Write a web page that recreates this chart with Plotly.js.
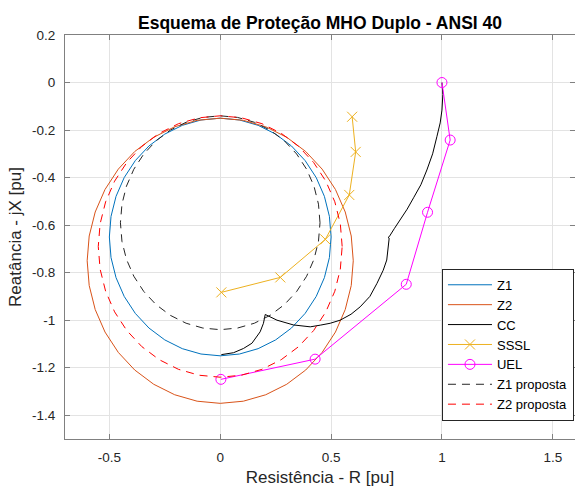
<!DOCTYPE html>
<html>
<head>
<meta charset="utf-8">
<script src="https://cdn.plot.ly/plotly-3.0.1.min.js"></script>
<style>html,body{margin:0;padding:0;background:#fff;}#chart{width:575px;height:491px;}</style>
</head>
<body>
<div id="chart"></div>
<script>
// ---- Data ----
// MHO zone circles: [centre R, centre X, radius]
const zoneNames   = ['Z1', 'Z2', 'Z1 proposta', 'Z2 proposta'];
const zoneCenterR = [0, 0, 0, 0];
const zoneCenterX = [-0.65, -0.75, -0.59, -0.69];
const zoneRadius  = [0.5, 0.6, 0.45, 0.55];
const circleSegments = 36;

// CC trajectory
const ccR = [0.005, 0.06, 0.105, 0.143, 0.18, 0.195, 0.203, 0.226, 0.256, 0.33, 0.406, 0.451, 0.496, 0.541, 0.59, 0.631, 0.675, 0.707, 0.735, 0.751, 0.759, 0.762, 0.757, 0.762, 0.785, 0.812, 0.843, 0.872, 0.905, 0.932, 0.958, 0.977, 0.992, 1.0, 1.004, 1.0];
const ccX = [-1.145, -1.137, -1.119, -1.097, -1.049, -1.013, -0.976, -0.986, -1.0, -1.02, -1.028, -1.021, -1.013, -1.0, -0.975, -0.944, -0.9, -0.845, -0.79, -0.747, -0.691, -0.655, -0.652, -0.649, -0.615, -0.577, -0.533, -0.485, -0.43, -0.368, -0.3, -0.228, -0.17, -0.116, -0.05, 0.0];

// SSSL
const ssslR = [0.005, 0.271, 0.474, 0.582, 0.611, 0.595];
const ssslX = [-0.883, -0.82, -0.66, -0.473, -0.292, -0.144];

// UEL
const uelR = [0.003, 0.428, 0.839, 0.935, 1.037, 1.0];
const uelX = [-1.249, -1.164, -0.849, -0.546, -0.242, 0.0];

// Tick labels
const xTickVals = [-0.5, 0, 0.5, 1, 1.5];
const xTickText = ['-0.5', '0', '0.5', '1', '1.5'];
const yTickVals = [0.2, 0, -0.2, -0.4, -0.6, -0.8, -1, -1.2, -1.4];
const yTickText = ['0.2', '0', '-0.2', '-0.4', '-0.6', '-0.8', '-1', '-1.2', '-1.4'];

// ---- Build traces ----
function circlePts(i) {
  const xs = [], ys = [];
  for (let k = 0; k <= circleSegments; k++) {
    const t = 2 * Math.PI * k / circleSegments;
    xs.push(zoneCenterR[i] + zoneRadius[i] * Math.cos(t));
    ys.push(zoneCenterX[i] + zoneRadius[i] * Math.sin(t));
  }
  return {x: xs, y: ys};
}
const font = 'Liberation Sans, Arial, Helvetica, sans-serif';
const c0 = circlePts(0), c1 = circlePts(1), c2 = circlePts(2), c3 = circlePts(3);
const traces = [
  {x: c0.x, y: c0.y, name: zoneNames[0], mode: 'lines', line: {color: '#0072BD', width: 1}},
  {x: c1.x, y: c1.y, name: zoneNames[1], mode: 'lines', line: {color: '#D95319', width: 1}},
  {x: ccR, y: ccX, name: 'CC', mode: 'lines', line: {color: '#000000', width: 1}},
  {x: ssslR, y: ssslX, name: 'SSSL', mode: 'lines+markers', line: {color: '#EDB120', width: 1},
   marker: {symbol: 'x-thin-open', size: 10, color: '#EDB120', line: {color: '#EDB120', width: 1}}},
  {x: uelR, y: uelX, name: 'UEL', mode: 'lines+markers', line: {color: '#FF00FF', width: 1},
   marker: {symbol: 'circle-open', size: 10, color: '#FF00FF', line: {color: '#FF00FF', width: 1}}},
  {x: c2.x, y: c2.y, name: zoneNames[2], mode: 'lines', line: {color: '#262626', width: 1, dash: '8px,6px'}},
  {x: c3.x, y: c3.y, name: zoneNames[3], mode: 'lines', line: {color: '#FF0000', width: 1, dash: '8px,6px'}}
];

const axisCommon = {
  showgrid: true, gridcolor: '#e3e3e3', gridwidth: 1,
  zeroline: false, showline: true, linecolor: '#808080', linewidth: 1,
  mirror: 'all', ticks: 'inside', ticklen: 5, tickcolor: '#808080',
  tickfont: {family: font, size: 13.5, color: '#262626'},
  ticklabelstandoff: 6
};

const layout = {
  width: 575, height: 491,
  margin: {l: 65, r: 0, t: 35, b: 52},
  paper_bgcolor: '#ffffff', plot_bgcolor: '#ffffff',
  font: {family: font, color: '#262626'},
  title: {text: '<b>Esquema de Proteção MHO Duplo - ANSI 40</b>', font: {family: font, size: 17.5, color: '#000000'},
          x: 0.5, xref: 'paper', y: 1 - 23 / 491, yref: 'container', yanchor: 'middle'},
  xaxis: Object.assign({}, axisCommon, {
    range: [-0.7, 1.6], tickvals: xTickVals, ticktext: xTickText,
    title: {text: 'Resistência - R [pu]', font: {family: font, size: 17, color: '#262626'}, standoff: 6}
  }),
  yaxis: Object.assign({}, axisCommon, {
    range: [-1.5, 0.2], tickvals: yTickVals, ticktext: yTickText,
    title: {text: 'Reatância - jX [pu]', font: {family: font, size: 17, color: '#262626'}, standoff: 6}
  }),
  showlegend: true,
  legend: {
    x: 0.998, xanchor: 'right', y: 0.045, yanchor: 'bottom',
    bgcolor: '#ffffff', bordercolor: '#262626', borderwidth: 1,
    font: {family: font, size: 13, color: '#000000'},
    traceorder: 'normal', itemwidth: 44
  }
};

Plotly.newPlot('chart', traces, layout, {displayModeBar: false, staticPlot: true});
</script>
</body>
</html>
